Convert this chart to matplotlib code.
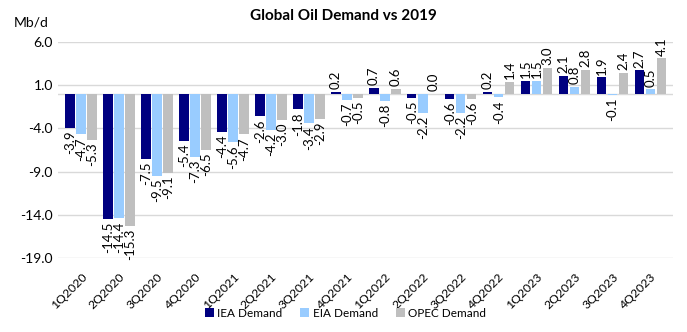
import matplotlib
matplotlib.use("Agg")
import matplotlib.pyplot as plt
import numpy as np

plt.rcParams['font.family'] = ['Lato', 'DejaVu Sans']

quarters = ['1Q2020', '2Q2020', '3Q2020', '4Q2020', '1Q2021', '2Q2021', '3Q2021', '4Q2021',
            '1Q2022', '2Q2022', '3Q2022', '4Q2022', '1Q2023', '2Q2023', '3Q2023', '4Q2023']
iea = [-3.9, -14.5, -7.5, -5.4, -4.4, -2.6, -1.8, 0.2, 0.7, -0.5, -0.6, 0.2, 1.5, 2.1, 1.9, 2.7]
eia = [-4.7, -14.4, -9.5, -7.3, -5.6, -4.2, -3.4, -0.7, -0.8, -2.2, -2.2, -0.4, 1.5, 0.8, -0.1, 0.5]
opec = [-5.3, -15.3, -9.1, -6.5, -4.7, -3.0, -2.9, -0.5, 0.6, 0.0, -0.6, 1.4, 3.0, 2.8, 2.4, 4.1]

series = [('IEA Demand', iea, '#000080'),
          ('EIA Demand', eia, '#99CCFF'),
          ('OPEC Demand', opec, '#BFBFBF')]

fig = plt.figure(figsize=(6.87, 3.32), dpi=100)
ax = fig.add_axes([0.085, 0.222, 0.895, 0.652])

x = np.arange(len(quarters))
w = 0.25
offsets = [-0.29, 0.0, 0.29]

for (name, vals, col), off in zip(series, offsets):
    bars = ax.bar(x + off, vals, w, color=col, label=name, zorder=3)
    for b, v in zip(bars, vals):
        up = v >= 0
        ax.annotate(f'{v:.1f}', (b.get_x() + b.get_width() / 2, v),
                    xytext=(0, 2 if up else -2), textcoords='offset points',
                    rotation=90, ha='center', va='bottom' if up else 'top',
                    fontsize=9.5)

ax.set_ylim(-19, 6)
ax.set_xlim(-0.6, len(quarters) - 0.4)
yt = [6, 1, -4, -9, -14, -19]
ax.set_yticks(yt)
ax.set_yticklabels([f'{t:.1f}' for t in yt], fontsize=10)
ax.yaxis.grid(True, color='#D9D9D9', linewidth=1, zorder=0)
ax.axhline(0, color='#D9D9D9', linewidth=1, zorder=1)
ax.set_xticks(x)
ax.set_xticklabels(quarters, rotation=45, ha='right', rotation_mode='anchor', fontsize=8.8)
ax.tick_params(length=0, pad=4)
ax.tick_params(axis='x', pad=9)
for s in ax.spines.values():
    s.set_visible(False)

fig.text(0.5, 0.952, 'Global Oil Demand vs 2019', ha='center', va='center',
         fontsize=11, fontweight='bold')
fig.text(0.02, 0.932, 'Mb/d', ha='left', va='center', fontsize=10)

fig.legend(loc='center', bbox_to_anchor=(0.503, 0.057), ncol=3, frameon=False,
           fontsize=8.5, handlelength=0.75, handleheight=0.75, handletextpad=0.3,
           columnspacing=1.5, borderpad=0)

fig.savefig('out.png', dpi=100)
